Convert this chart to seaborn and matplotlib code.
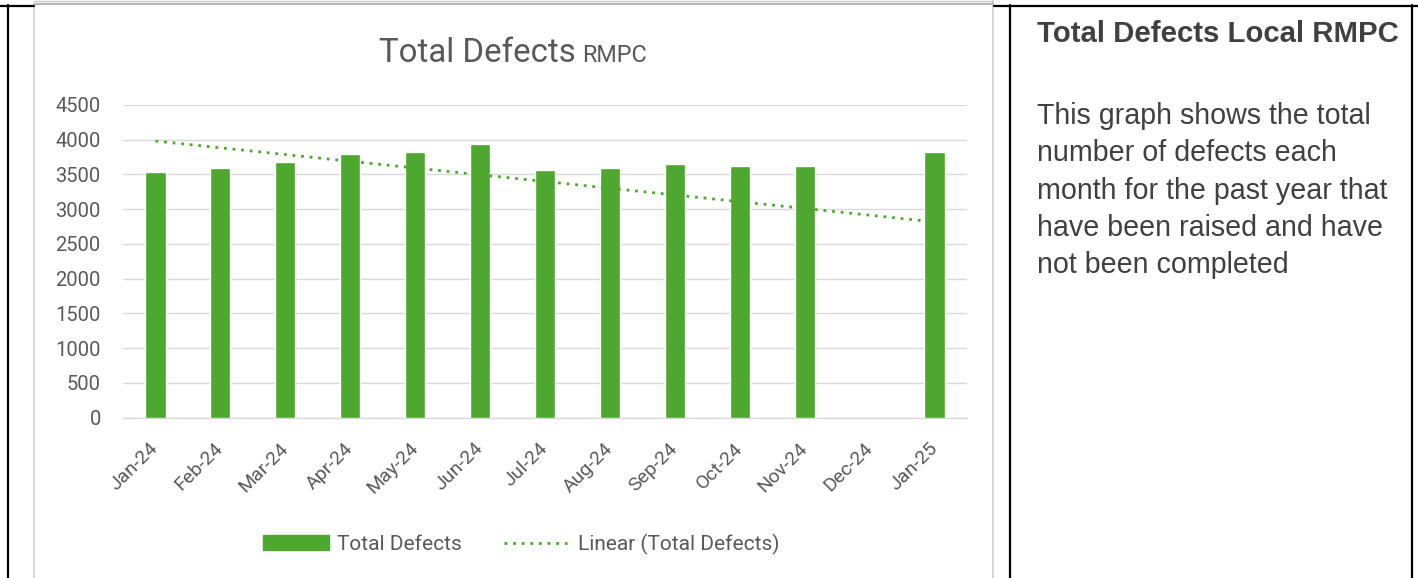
import matplotlib
matplotlib.use('Agg')
import matplotlib.pyplot as plt
import seaborn as sns
import pandas as pd
import numpy as np
from matplotlib.lines import Line2D
from matplotlib.patches import Patch

# data
months = ['Jan-24', 'Feb-24', 'Mar-24', 'Apr-24', 'May-24', 'Jun-24', 'Jul-24',
          'Aug-24', 'Sep-24', 'Oct-24', 'Nov-24', 'Dec-24', 'Jan-25']
total_defects = [3531, 3589, 3675, 3790, 3819, 3934, 3560,
                 3589, 3647, 3618, 3618, 0, 3819]
y_ticks = [0, 500, 1000, 1500, 2000, 2500, 3000, 3500, 4000, 4500]

panel_title = 'Total Defects Local RMPC'
panel_lines = ['This graph shows the total',
               'number of defects each',
               'month for the past year that',
               'have been raised and have',
               'not been completed']

GREEN = '#4EA72E'
GREY_TXT = '#595959'
GRID = '#D9D9D9'

sns.set_style('white')
plt.rcParams['font.family'] = ['Roboto', 'DejaVu Sans']

W, H = 1418, 578
fig = plt.figure(figsize=(W / 100, H / 100), dpi=100)

# background layer in pixel coordinates (table borders, chart frame)
bg = fig.add_axes([0, 0, 1, 1], zorder=0)
bg.set_xlim(0, W)
bg.set_ylim(H, 0)
bg.axis('off')

# chart frame
bg.plot([34, 34], [7, H], color='#D0D0D0', lw=1.2)
bg.plot([993, 993], [0, H], color='#D0D0D0', lw=1.2)
bg.plot([34, 993], [4, 4], color='#A8A8A8', lw=1.2)
bg.plot([34, 993], [0.5, 0.5], color='#C8C8C8', lw=1.0)

# table borders
for x in [8, 1010, 1412]:
    bg.plot([x, x], [5, H], color='black', lw=1.6)
bg.plot([0, 34], [5.5, 5.5], color='black', lw=1.6)
bg.plot([994, W], [5.5, 5.5], color='black', lw=1.6)

# chart title (two sizes)
bg.text(576, 61.5, 'Total Defects', ha='right', va='baseline',
        fontsize=23.8, color=GREY_TXT)
bg.text(582, 61.5, 'RMPC', ha='left', va='baseline',
        fontsize=16.8, color=GREY_TXT)

# right-hand description
txt_font = ['Liberation Sans', 'DejaVu Sans']
bg.text(1037, 41.5, panel_title, ha='left', va='baseline', fontsize=21.2,
        fontweight='bold', color='#404040', family=txt_font)
for i, line in enumerate(panel_lines):
    bg.text(1037, 124 + i * 37.3, line, ha='left', va='baseline',
            fontsize=20.6, color='#404040', family=txt_font)

# main plot
left, right, top, bottom = 123, 967, 105, 417.7
ax = fig.add_axes([left / W, 1 - bottom / H, (right - left) / W, (bottom - top) / H],
                  zorder=1)
ax.patch.set_alpha(0)

df = pd.DataFrame({'Month': months, 'Total Defects': total_defects})
sns.barplot(data=df, x='Month', y='Total Defects', color=GREEN, width=0.31,
            saturation=1, ax=ax, zorder=3)

# linear trendline fitted on the series
xi = np.arange(len(months))
slope, intercept = np.polyfit(xi, total_defects, 1)
trend = slope * xi + intercept
ax.plot(xi, trend, color=GREEN, lw=2.0, linestyle=(0, (1, 2.1)),
        dash_capstyle='butt', zorder=4)

ax.set_xlim(-0.5, len(months) - 0.5)
ax.set_ylim(0, 4500)
ax.set_yticks(y_ticks)
ax.set_yticklabels([str(v) for v in y_ticks])
ax.yaxis.grid(True, color=GRID, lw=1.0, zorder=0)
ax.xaxis.grid(False)
for s in ['top', 'right', 'left']:
    ax.spines[s].set_visible(False)
ax.spines['bottom'].set_color(GRID)
ax.spines['bottom'].set_linewidth(1.0)
ax.set_xlabel('')
ax.set_ylabel('')
ax.tick_params(axis='y', length=0, pad=16, labelsize=14.5, labelcolor=GREY_TXT)
ax.tick_params(axis='x', length=0, pad=20, labelsize=14, labelcolor=GREY_TXT)
for lab in ax.get_xticklabels():
    lab.set_rotation(45)
    lab.set_ha('right')
    lab.set_va('center')
    lab.set_rotation_mode('anchor')

handles = [Patch(facecolor=GREEN, edgecolor=GREEN),
           Line2D([0], [0], color=GREEN, lw=2.0, linestyle=(0, (1, 2.1)),
                  dash_capstyle='butt')]
fig.legend(handles, ['Total Defects', 'Linear (Total Defects)'],
           loc='center', bbox_to_anchor=(521 / W, 1 - 544 / H), ncol=2,
           frameon=False, fontsize=15, labelcolor=GREY_TXT,
           handlelength=3.2, handleheight=0.7, handletextpad=0.34,
           columnspacing=2.05)

fig.savefig('out.png', dpi=100)
